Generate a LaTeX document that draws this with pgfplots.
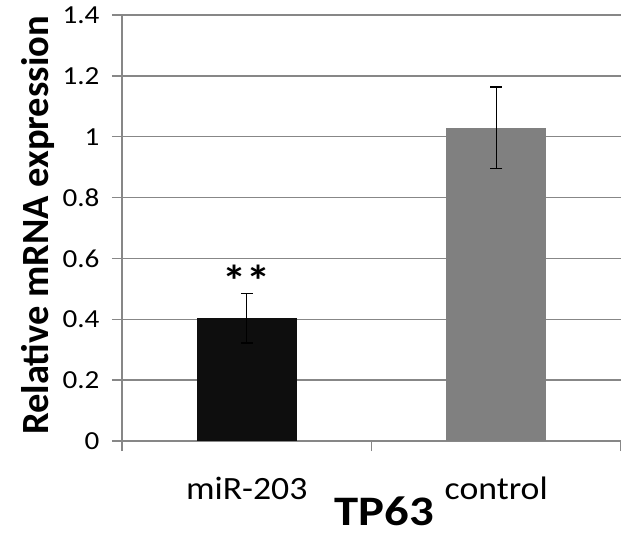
\documentclass[border=0pt]{standalone}
\usepackage{pgfplots}
\pgfplotsset{compat=1.18}
\usepackage{fontspec}
\setmainfont{Carlito}
\definecolor{gridgray}{HTML}{878787}
\definecolor{bargray}{HTML}{808080}
\definecolor{barblack}{HTML}{0E0E0E}
\begin{document}
\begin{tikzpicture}[x=1pt,y=1pt]
\path[use as bounding box] (0,0) rectangle (621,536);
\begin{axis}[
  at={(122pt,95pt)}, anchor=south west,
  scale only axis, width=499pt, height=426pt,
  xmin=-0.5, xmax=1.5, ymin=0, ymax=1.4,
  ytick={0,0.2,0.4,0.6,0.8,1,1.2,1.4},
  yticklabels={0,0.2,0.4,0.6,0.8,1,1.2,1.4},
  ymajorgrids, grid style={gridgray, line width=1.4pt},
  axis x line*=bottom, axis y line*=left,
  axis line style={gridgray, line width=1.4pt, -},
  tick align=outside, major tick length=10pt,
  tick style={gridgray, line width=1.4pt},
  yticklabel style={font=\fontsize{26}{26}\selectfont, xscale=1.12, anchor=east, inner sep=0pt, xshift=-11pt},
  xtick={0,1}, xticklabels={miR-203,control},
  xtick style={draw=none},
  xticklabel style={font=\fontsize{32.5}{32.5}\selectfont, xscale=1.1, anchor=base, inner sep=0pt, yshift=-48pt},
  extra x ticks={-0.5,0.5,1.5}, extra x tick labels={},
  extra x tick style={xtick style={draw=gridgray}, grid=none},
  clip=false,
]
\addplot[ybar, bar width=100pt, bar shift=0pt, fill=barblack, draw=none,
  error bars/.cd, y dir=both, y explicit,
  error bar style={black, line width=1.4pt},
  error mark options={rotate=90, mark size=6pt, line width=1.4pt, black}]
  coordinates {(0,0.403) +- (0,0.081)};
\addplot[ybar, bar width=100pt, bar shift=0pt, fill=bargray, draw=none,
  error bars/.cd, y dir=both, y explicit,
  error bar style={black, line width=1.4pt},
  error mark options={rotate=90, mark size=6pt, line width=1.4pt, black}]
  coordinates {(1,1.03) +- (0,0.134)};
\node[anchor=base, font=\bfseries\fontsize{44}{44}\selectfont, xscale=1.1, inner sep=0pt] at (axis cs:0,0.475) {**};
\end{axis}
\node[rotate=90, anchor=base, font=\bfseries\fontsize{38.5}{38.5}\selectfont, inner sep=0pt] at (48,310.5) {Relative mRNA expression};
\node[anchor=base, font=\bfseries\fontsize{42}{42}\selectfont, xscale=1.16, inner sep=0pt] at (384,11) {TP63};
\end{tikzpicture}
\end{document}
